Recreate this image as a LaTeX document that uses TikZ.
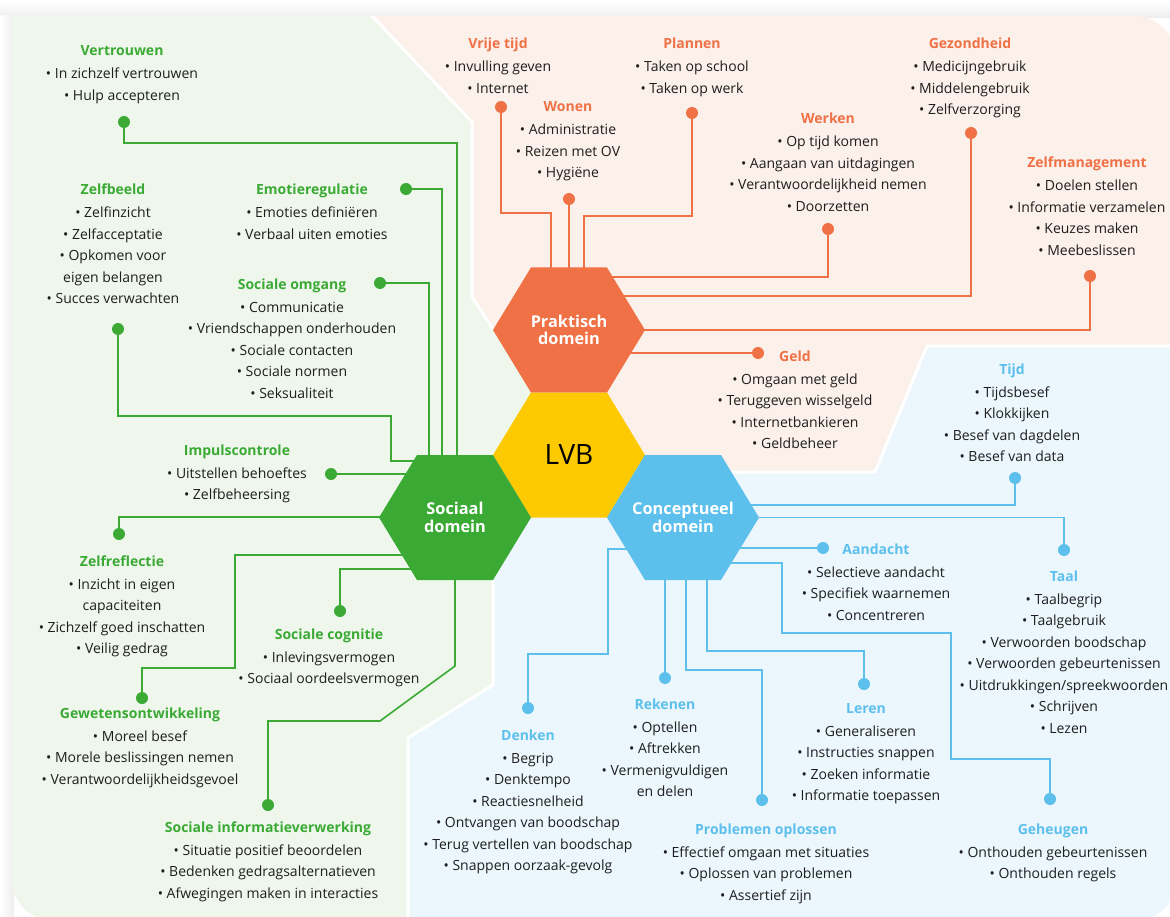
\documentclass[tikz,border=0pt]{standalone}
\usepackage{fontspec}
\setmainfont{Open Sans}
\usetikzlibrary{calc}
\definecolor{cg}{HTML}{3AAA35}
\definecolor{co}{HTML}{EF7145}
\definecolor{cb}{HTML}{5DC0EC}
\definecolor{cy}{HTML}{FDC900}
\definecolor{bgg}{HTML}{EFF7EC}
\definecolor{bgo}{HTML}{FCF0EA}
\definecolor{bgb}{HTML}{EBF6FD}
\definecolor{txt}{HTML}{1E1E1E}
\newcommand{\bodyfnt}{\fontsize{14}{21.5}\selectfont}
% name, title centre (x,y), colour, title, number of body lines, body
\newcommand{\blk}[6]{\node[blk] (#1) at ($(#2)+(0,6+#5*21.5+1.5)$) {\textcolor{#3}{\bfseries #4}\\[1.5pt] #6};}
\newcommand{\hexa}[2]{\fill[#2] ($(#1)+(-76,0)$) -- ($(#1)+(-38,-62.5)$) -- ($(#1)+(38,-62.5)$) -- ($(#1)+(76,0)$) -- ($(#1)+(38,62.5)$) -- ($(#1)+(-38,62.5)$) -- cycle;}
\tikzset{
  blk/.style={align=center, anchor=base, font=\bodyfnt, text=txt, inner sep=0pt},
  dotg/.style={circle, fill=cg, inner sep=0pt, minimum size=12pt},
  doto/.style={circle, fill=co, inner sep=0pt, minimum size=12pt},
  dotb/.style={circle, fill=cb, inner sep=0pt, minimum size=12pt},
  lng/.style={draw=cg, line width=1.6pt},
  lno/.style={draw=co, line width=1.6pt},
  lnb/.style={draw=cb, line width=1.6pt},
  sep/.style={draw=white, line width=3pt},
  hexlbl/.style={align=center, text=white, font=\fontsize{16.3}{17.5}\selectfont\bfseries, inner sep=0pt}
}
\begin{document}
\begin{tikzpicture}[x=1pt,y=-1pt]
\useasboundingbox (0,0) rectangle (1170,917);
\fill[white] (0,0) rectangle (1170,917);
% soft shadow
\shade[top color=white, bottom color=black!7] (0,2) rectangle (1170,18);
\shade[left color=white, right color=black!7] (0,16) rectangle (14,917);
\begin{scope}
\clip[rounded corners=42pt] (12,16) rectangle (1176,921) [sharp corners] (12,16) rectangle (100,100);
\fill[bgo] (0,0) rectangle (1180,930);
\fill[bgg] (0,0) -- (357,0) -- (472,122) -- (472,297) -- (493,329) -- (569,455) -- (493,580) -- (493,685) -- (408,738) -- (408,930) -- (0,930) -- cycle;
\fill[bgb] (1180,346) -- (927,346) -- (875,472) -- (731,472) -- (569,455) -- (493,580) -- (493,685) -- (408,738) -- (408,930) -- (1180,930) -- cycle;
\draw[sep] (357,0) -- (472,122) -- (472,297) -- (493,329);
\draw[sep] (1180,346) -- (927,346) -- (875,472) -- (731,472);
\draw[sep] (493,580) -- (493,685) -- (408,738) -- (408,930);
\end{scope}

% hexagon centres
\coordinate (P) at (569,330);
\coordinate (L) at (569,455);
\coordinate (S) at (455,517.5);
\coordinate (C) at (683,517.5);

% dots
\node[dotg] (dVer) at (124,122) {};
\node[dotg] (dEmo) at (406,189) {};
\node[dotg] (dSom) at (380,283) {};
\node[dotg] (dZb) at (118,329) {};
\node[dotg] (dImp) at (331,474) {};
\node[dotg] (dZr) at (119,534) {};
\node[dotg] (dGew) at (142,698) {};
\node[dotg] (dSc) at (340,611) {};
\node[dotg] (dSiv) at (268,805) {};
\node[doto] (dVrij) at (501,107) {};
\node[doto] (dWon) at (569,199) {};
\node[doto] (dPlan) at (692,113) {};
\node[doto] (dWerk) at (828,229) {};
\node[doto] (dGez) at (971,133) {};
\node[doto] (dZm) at (1090,276) {};
\node[doto] (dGeld) at (758,353) {};
\node[dotb] (dTijd) at (1015,478) {};
\node[dotb] (dTaal) at (1064,550) {};
\node[dotb] (dAan) at (823,548) {};
\node[dotb] (dGeh) at (1050,799) {};
\node[dotb] (dLer) at (864,684) {};
\node[dotb] (dPro) at (762,800) {};
\node[dotb] (dRek) at (665,678) {};
\node[dotb] (dDen) at (528,708) {};

% connectors social
\draw[lng] (dVer) |- (457,143) -- (457,520);
\draw[lng] (dEmo) -| (442,520);
\draw[lng] (dSom) -| (429,520);
\draw[lng] (dZb) |- (391,416) |- (440,461);
\draw[lng] (dImp) -- (dImp -| S);
\draw[lng] (dZr) |- (440,517);
\draw[lng] (dGew) |- (235,668) |- (440,555);
\draw[lng] (dSc) |- (440,569);
\draw[lng] (dSiv) |- (380,721) -- (455,666) -- (S);
% connectors practical
\draw[lno] (dVrij) |- (551,213) -- (551,330);
\draw[lno] (dWon) -- (P);
\draw[lno] (dPlan) |- (584,216) -- (584,330);
\draw[lno] (dWerk) |- (600,277);
\draw[lno] (dGez) |- (600,296);
\draw[lno] (dZm) |- (P);
\draw[lno] (dGeld) -- (dGeld -| P);
% connectors conceptual
\draw[lnb] (dTijd) |- (700,505);
\draw[lnb] (dTaal) |- (C);
\draw[lnb] (dAan) -- (dAan -| C);
\draw[lnb] (dGeh) |- (951,759) |- (782,633) |- (700,563);
\draw[lnb] (dLer) |- (707,651) -- (707,530);
\draw[lnb] (dPro) |- (686,670) -- (686,530);
\draw[lnb] (dRek) -- (dRek |- C);
\draw[lnb] (dDen) |- (608,654) |- (660,549);

% hexagons
\hexa{P}{co}
\hexa{L}{cy}
\hexa{S}{cg}
\hexa{C}{cb}
\node[hexlbl] (lP) at (P) {Praktisch\\domein};
\node[inner sep=0pt, text=black, font=\fontsize{28}{30}\selectfont] (lL) at (L) {LVB};
\node[hexlbl] (lS) at (S) {Sociaal\\domein};
\node[hexlbl] (lC) at (C) {Conceptueel\\domein};

% text blocks social
\blk{tVer}{122,50}{cg}{Vertrouwen}{2}{• In zichzelf vertrouwen\\• Hulp accepteren}
\blk{tZb}{113,189}{cg}{Zelfbeeld}{5}{• Zelfinzicht\\• Zelfacceptatie\\• Opkomen voor\\eigen belangen\\• Succes verwachten}
\blk{tEmo}{312,189}{cg}{Emotieregulatie}{2}{• Emoties definiëren\\• Verbaal uiten emoties}
\blk{tSo}{292,283}{cg}{Sociale omgang}{5}{• Communicatie\\• Vriendschappen onderhouden\\• Sociale contacten\\• Sociale normen\\• Seksualiteit}
\blk{tImp}{237,449}{cg}{Impulscontrole}{2}{• Uitstellen behoeftes\\• Zelfbeheersing}
\blk{tZr}{122,560}{cg}{Zelfreflectie}{4}{• Inzicht in eigen\\capaciteiten\\• Zichzelf goed inschatten\\• Veilig gedrag}
\blk{tSc}{329,633}{cg}{Sociale cognitie}{2}{• Inlevingsvermogen\\• Sociaal oordeelsvermogen}
\blk{tGew}{140,712}{cg}{Gewetensontwikkeling}{3}{• Moreel besef\\• Morele beslissingen nemen\\• Verantwoordelijkheidsgevoel}
\blk{tSiv}{268,826}{cg}{Sociale informatieverwerking}{3}{• Situatie positief beoordelen\\• Bedenken gedragsalternatieven\\• Afwegingen maken in interacties}
% practical
\blk{tVrij}{498,43}{co}{Vrije tijd}{2}{• Invulling geven\\• Internet}
\blk{tWon}{568,106}{co}{Wonen}{3}{• Administratie\\• Reizen met OV\\• Hygiëne}
\blk{tPlan}{692,43}{co}{Plannen}{2}{• Taken op school\\• Taken op werk}
\blk{tWerk}{828,118}{co}{Werken}{4}{• Op tijd komen\\• Aangaan van uitdagingen\\• Verantwoordelijkheid nemen\\• Doorzetten}
\blk{tGez}{970,43}{co}{Gezondheid}{3}{• Medicijngebruik\\• Middelengebruik\\• Zelfverzorging}
\blk{tZm}{1087,162}{co}{Zelfmanagement}{4}{• Doelen stellen\\• Informatie verzamelen\\• Keuzes maken\\• Meebeslissen}
\blk{tGeld}{795,355}{co}{Geld}{4}{• Omgaan met geld\\• Teruggeven wisselgeld\\• Internetbankieren\\• Geldbeheer}
% conceptual
\blk{tTijd}{1012,368}{cb}{Tijd}{4}{• Tijdsbesef\\• Klokkijken\\• Besef van dagdelen\\• Besef van data}
\blk{tAan}{876,548}{cb}{Aandacht}{3}{• Selectieve aandacht\\• Specifiek waarnemen\\• Concentreren}
\blk{tTaal}{1064,575}{cb}{Taal}{7}{• Taalbegrip\\• Taalgebruik\\• Verwoorden boodschap\\• Verwoorden gebeurtenissen\\• Uitdrukkingen/spreekwoorden\\• Schrijven\\• Lezen}
\blk{tDen}{528,734}{cb}{Denken}{6}{• Begrip\\• Denktempo\\• Reactiesnelheid\\• Ontvangen van boodschap\\• Terug vertellen van boodschap\\• Snappen oorzaak-gevolg}
\blk{tRek}{665,703}{cb}{Rekenen}{4}{• Optellen\\• Aftrekken\\• Vermenigvuldigen\\en delen}
\blk{tLer}{866,707}{cb}{Leren}{4}{• Generaliseren\\• Instructies snappen\\• Zoeken informatie\\• Informatie toepassen}
\blk{tPro}{766,828}{cb}{Problemen oplossen}{3}{• Effectief omgaan met situaties\\• Oplossen van problemen\\• Assertief zijn}
\blk{tGeh}{1053,828}{cb}{Geheugen}{2}{• Onthouden gebeurtenissen\\• Onthouden regels}
\end{tikzpicture}
\end{document}
